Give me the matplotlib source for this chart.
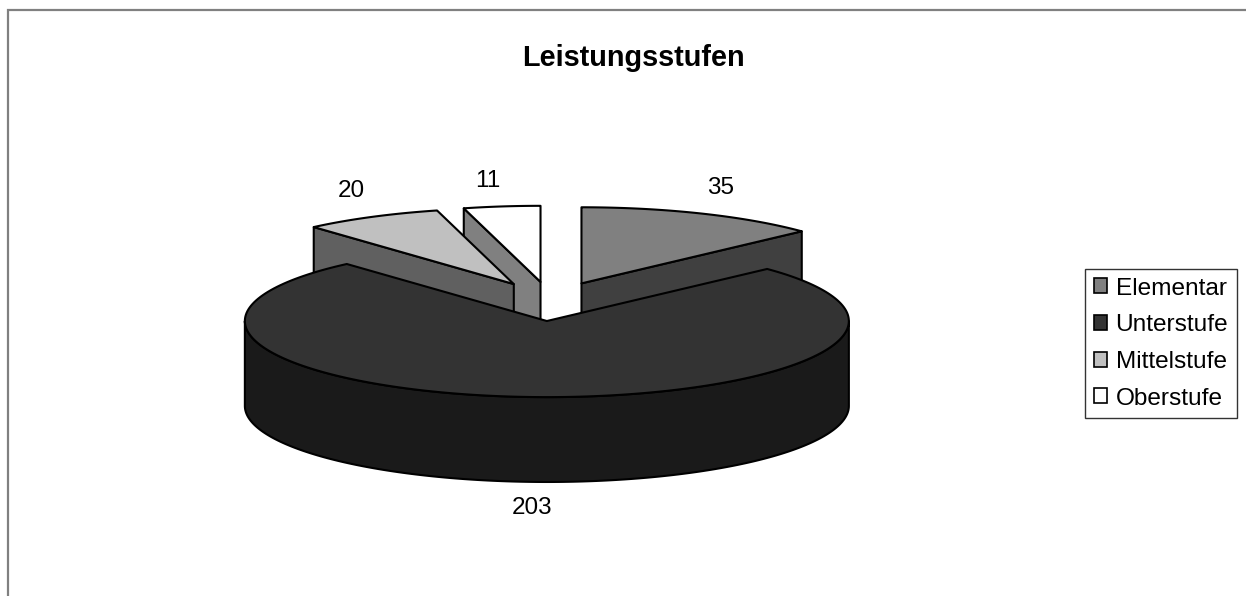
import numpy as np
import matplotlib
matplotlib.use("Agg")
import matplotlib.pyplot as plt
from matplotlib.colors import to_rgb
from matplotlib.patches import Polygon, Rectangle, Patch

# data
categories = ['Elementar', 'Unterstufe', 'Mittelstufe', 'Oberstufe']
values = [35, 203, 20, 11]
top_colors = ['#808080', '#333333', '#c0c0c0', '#ffffff']
title = 'Leistungsstufen'

# look of the 3D cake, in units of the pie radius
TILT = 0.252
DEPTH = 0.281
EXPLODE = 0.258
CENTER_PX = (550.5, 301.4)
RADIUS_PX = 302.0
W, H = 1246, 596

plt.rcParams['font.family'] = ['Liberation Sans', 'DejaVu Sans']


def shade(color, f=0.5):
    r, g, b = to_rgb(color)
    return (r * f, g * f, b * f)


def top_point(theta, ox, oy):
    # angles run clockwise from 12 o'clock like in Excel
    return ox + np.sin(theta), oy + TILT * np.cos(theta)


fig = plt.figure(figsize=(W / 100, H / 100), dpi=100)
ax = fig.add_axes([0, 0, 1, 1])
ax.set_xlim(-CENTER_PX[0] / RADIUS_PX, (W - CENTER_PX[0]) / RADIUS_PX)
ax.set_ylim((CENTER_PX[1] - H) / RADIUS_PX, CENTER_PX[1] / RADIUS_PX)
ax.axis('off')

# chart area frame (right and bottom run off the picture)
fig.patches.append(Rectangle((7.5 / W, -0.05), 1.2, 1 - 9.5 / H + 0.05,
                             transform=fig.transFigure, fill=False,
                             edgecolor='#808080', linewidth=1.6))

total = float(sum(values))
bounds = np.concatenate([[0.0], np.cumsum(values)]) / total * 2 * np.pi
mids = (bounds[:-1] + bounds[1:]) / 2

# back slices first
order = sorted(range(len(values)), key=lambda i: -np.cos(mids[i]))
z = 1
lw = 1.5
for i in order:
    t1, t2, mid = bounds[i], bounds[i + 1], mids[i]
    ox = EXPLODE * np.sin(mid)
    oy = EXPLODE * TILT * np.cos(mid)
    side = shade(top_colors[i])
    faces = []
    # radial faces that turn toward the viewer
    for t, visible in ((t1, np.sin(t1) < -1e-6), (t2, np.sin(t2) > 1e-6)):
        if visible:
            x, y = top_point(t, ox, oy)
            faces.append([(ox, oy), (x, y), (x, y - DEPTH), (ox, oy - DEPTH)])
    # front part of the outer wall
    a, b = max(t1, np.pi / 2), min(t2, 3 * np.pi / 2)
    if b > a:
        tt = np.linspace(a, b, 200)
        xs, ys = top_point(tt, ox, oy)
        pts = list(zip(xs, ys)) + list(zip(xs[::-1], ys[::-1] - DEPTH))
        faces.append(pts)
    for f in faces:
        ax.add_patch(Polygon(f, closed=True, facecolor=side, edgecolor='black',
                             linewidth=lw, joinstyle='round', zorder=z))
        z += 1
    tt = np.linspace(t1, t2, 200)
    xs, ys = top_point(tt, ox, oy)
    top = [(ox, oy)] + list(zip(xs, ys))
    ax.add_patch(Polygon(top, closed=True, facecolor=top_colors[i], edgecolor='black',
                         linewidth=lw, joinstyle='round', zorder=z))
    z += 1

    # value label outside the slice
    lx, ly = top_point(mid, ox, oy)
    if np.cos(mid) < 0:
        ly -= DEPTH
    lx += 0.05 * np.sin(mid)
    ly += 0.085 * np.sign(np.cos(mid))
    s = np.sin(mid)
    ha = 'left' if s > 0.1 else ('right' if s < -0.1 else 'center')
    ax.text(lx, ly, str(values[i]), ha=ha, va='center', fontsize=17.5, zorder=50)

fig.text(633 / W, 1 - 58 / H, title, ha='center', va='center',
         fontsize=20.8, fontweight='bold')

handles = [Patch(facecolor=c, edgecolor='black', linewidth=1.2) for c in top_colors]
leg = fig.legend(handles, categories, loc='center left',
                 bbox_to_anchor=(1085 / W, 1 - 343.5 / H), fontsize=17.6,
                 frameon=True, fancybox=False, edgecolor='black',
                 handlelength=0.55, handleheight=0.55, handletextpad=0.35,
                 labelspacing=0.6, borderpad=0.35, borderaxespad=0)
leg.get_frame().set_linewidth(1.0)

fig.savefig('out.png', dpi=100, facecolor='white')
